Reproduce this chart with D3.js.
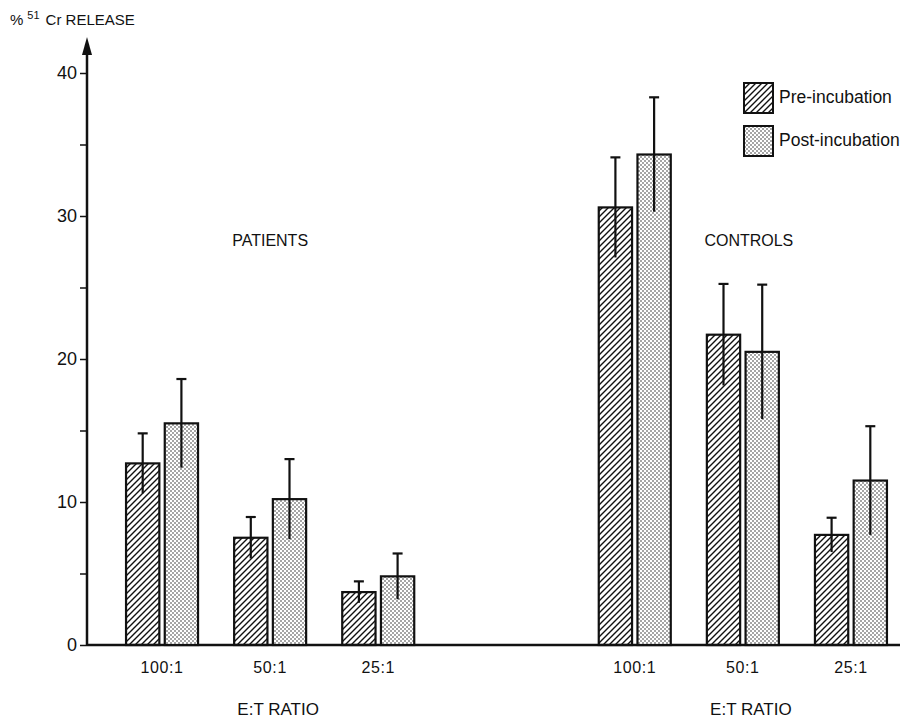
<!DOCTYPE html>
<html>
<head>
<meta charset="utf-8">
<script src="https://cdn.jsdelivr.net/npm/d3@7"></script>
<style>
  body { margin: 0; background: #fff; }
  text { font-family: "Liberation Sans", Arial, sans-serif; fill: #111; }
</style>
</head>
<body>
<svg id="chart" width="910" height="723"></svg>
<script>
// groups and E:T ratios
var groups = ["PATIENTS", "CONTROLS"];
var ratios = ["100:1", "50:1", "25:1"];
var series = ["Pre-incubation", "Post-incubation"];

// mean % 51Cr release, per ratio
var patientsPre  = [12.7, 7.5, 3.7];
var patientsPost = [15.5, 10.2, 4.8];
var controlsPre  = [30.6, 21.7, 7.7];
var controlsPost = [34.3, 20.5, 11.5];

// error (half-length of bar)
var patientsPreErr  = [2.1, 1.45, 0.75];
var patientsPostErr = [3.1, 2.8, 1.6];
var controlsPreErr  = [3.5, 3.55, 1.2];
var controlsPostErr = [4.0, 4.7, 3.8];

var yTicks = [0, 5, 10, 15, 20, 25, 30, 35, 40];

// build rows for drawing
var rows = [];
var sets = {
  "PATIENTS": [[patientsPre, patientsPreErr], [patientsPost, patientsPostErr]],
  "CONTROLS": [[controlsPre, controlsPreErr], [controlsPost, controlsPostErr]]
};
groups.forEach(function(g) {
  ratios.forEach(function(r, i) {
    series.forEach(function(s, j) {
      rows.push({group: g, ratio: r, series: s, value: sets[g][j][0][i], err: sets[g][j][1][i]});
    });
  });
});

var svg = d3.select("#chart");

// patterns
var defs = svg.append("defs");
var hatch = defs.append("pattern").attr("id", "hatch")
    .attr("patternUnits", "userSpaceOnUse").attr("width", 6).attr("height", 6);
hatch.append("path")
    .attr("d", "M0,6 L6,0 M-2,2 L2,-2 M4,8 L8,4")
    .attr("stroke", "#111").attr("stroke-width", 1.4);
var dots = defs.append("pattern").attr("id", "dots")
    .attr("patternUnits", "userSpaceOnUse").attr("width", 4).attr("height", 4);
dots.append("rect").attr("width", 4).attr("height", 4).attr("fill", "#fff");
dots.append("circle").attr("cx", 1).attr("cy", 1).attr("r", 0.8).attr("fill", "#333");
dots.append("circle").attr("cx", 3).attr("cy", 3).attr("r", 0.8).attr("fill", "#333");

var fills = {"Pre-incubation": "url(#hatch)", "Post-incubation": "url(#dots)"};

// scales
var y = d3.scaleLinear().domain([0, 40]).range([645, 73]);
var x0 = d3.scaleBand().domain(groups).range([108, 905]).paddingInner(0.314);
var x1 = d3.scaleBand().domain(ratios).range([0, x0.bandwidth()]);
var x2 = d3.scaleBand().domain(series)
    .range([x1.bandwidth() / 2 - 36, x1.bandwidth() / 2 + 36]).paddingInner(0.14);

function barX(d) { return x0(d.group) + x1(d.ratio) + x2(d.series); }

// y axis
var yAxis = d3.axisLeft(y).tickValues(yTicks).tickSize(7).tickPadding(3)
    .tickFormat(function(d) { return d % 10 === 0 ? d : ""; });
var ga = svg.append("g").attr("transform", "translate(87,0)").call(yAxis);
ga.select(".domain").remove();
ga.selectAll(".tick line").attr("stroke", "#111").attr("stroke-width", 1.5);
ga.selectAll(".tick text").attr("font-size", 18).style("fill", "#111")
    .attr("font-family", "Liberation Sans, Arial, sans-serif");

// axis line with arrow
svg.append("line").attr("x1", 87).attr("x2", 87)
    .attr("y1", y(0)).attr("y2", y(40) - 22)
    .attr("stroke", "#111").attr("stroke-width", 2.5);
svg.append("path")
    .attr("d", "M87," + (y(40) - 36) + " L82," + (y(40) - 18) + " L92," + (y(40) - 18) + " Z")
    .attr("fill", "#111");

// baseline
svg.append("line").attr("x1", 87).attr("x2", 900)
    .attr("y1", y(0)).attr("y2", y(0))
    .attr("stroke", "#111").attr("stroke-width", 2.5);

// bars
svg.append("g").selectAll("rect").data(rows).join("rect")
    .attr("x", barX)
    .attr("y", function(d) { return y(d.value); })
    .attr("width", x2.bandwidth())
    .attr("height", function(d) { return y(0) - y(d.value); })
    .attr("fill", function(d) { return fills[d.series]; })
    .attr("stroke", "#111").attr("stroke-width", 2.2);

// error bars (cap on top only)
var eb = svg.append("g").selectAll("g").data(rows).join("g");
eb.append("line")
    .attr("x1", function(d) { return barX(d) + x2.bandwidth() / 2; })
    .attr("x2", function(d) { return barX(d) + x2.bandwidth() / 2; })
    .attr("y1", function(d) { return y(d.value - d.err); })
    .attr("y2", function(d) { return y(d.value + d.err); })
    .attr("stroke", "#111").attr("stroke-width", 2.2);
eb.append("line")
    .attr("x1", function(d) { return barX(d) + x2.bandwidth() / 2 - 5; })
    .attr("x2", function(d) { return barX(d) + x2.bandwidth() / 2 + 5; })
    .attr("y1", function(d) { return y(d.value + d.err); })
    .attr("y2", function(d) { return y(d.value + d.err); })
    .attr("stroke", "#111").attr("stroke-width", 2.2);

// x labels
groups.forEach(function(g) {
  svg.append("g").selectAll("text").data(ratios).join("text")
      .attr("x", function(r) { return x0(g) + x1(r) + x1.bandwidth() / 2; })
      .attr("y", 673)
      .attr("text-anchor", "middle").attr("font-size", 16).attr("letter-spacing", 0.6)
      .text(function(r) { return r; });
  svg.append("text")
      .attr("x", x0(g) + x0.bandwidth() / 2 + 8).attr("y", 715)
      .attr("text-anchor", "middle").attr("font-size", 17)
      .text("E:T RATIO");
});

// group titles
svg.append("text").attr("x", x0("PATIENTS") + x1("50:1") + x1.bandwidth() / 2)
    .attr("y", 246).attr("text-anchor", "middle").attr("font-size", 16).text("PATIENTS");
svg.append("text").attr("x", x0("CONTROLS") + x1("50:1") + x1.bandwidth() / 2 + 6)
    .attr("y", 246).attr("text-anchor", "middle").attr("font-size", 16).text("CONTROLS");

// y title
var yt = svg.append("text").attr("x", 10).attr("y", 25).attr("font-size", 15);
yt.append("tspan").text("%");
yt.append("tspan").attr("dx", 4).attr("dy", -6).attr("font-size", 11).text("51");
yt.append("tspan").attr("dx", 6).attr("dy", 6).text("Cr RELEASE");

// legend
var lg = svg.append("g").attr("transform", "translate(744,83)");
var li = lg.selectAll("g").data(series).join("g")
    .attr("transform", function(d, i) { return "translate(0," + (i * 43) + ")"; });
li.append("rect").attr("width", 29).attr("height", 30)
    .attr("fill", function(d) { return fills[d]; })
    .attr("stroke", "#111").attr("stroke-width", 2);
li.append("text").attr("x", 35).attr("y", 20).attr("font-size", 17.5)
    .text(function(d) { return d; });
</script>
</body>
</html>
